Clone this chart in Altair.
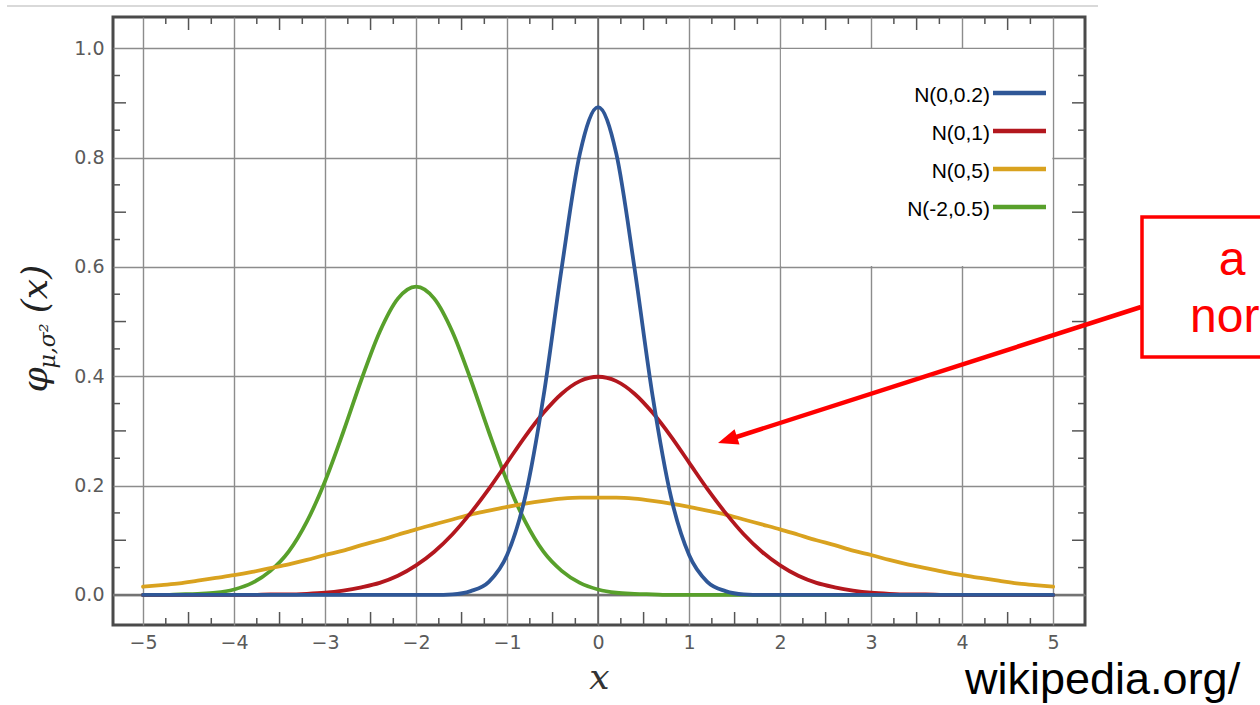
import altair as alt
import pandas as pd

# ---------------- data ----------------
x_pts = [-5.0, -4.8, -4.6, -4.4, -4.2, -4.0, -3.8, -3.6, -3.4, -3.2,
         -3.0, -2.8, -2.6, -2.4, -2.2, -2.0, -1.8, -1.6, -1.4, -1.2,
         -1.0, -0.8, -0.6, -0.4, -0.2, 0.0, 0.2, 0.4, 0.6, 0.8,
         1.0, 1.2, 1.4, 1.6, 1.8, 2.0, 2.2, 2.4, 2.6, 2.8,
         3.0, 3.2, 3.4, 3.6, 3.8, 4.0, 4.2, 4.4, 4.6, 4.8,
         5.0]

n_0_02 = [0, 0, 0, 0, 0, 0, 0, 0, 0, 0,
          0, 0, 0, 0, 0, 0, 0, 0.001, 0.007, 0.024,
          0.073, 0.180, 0.363, 0.598, 0.807, 0.892, 0.807, 0.598, 0.363, 0.180,
          0.073, 0.024, 0.007, 0.001, 0, 0, 0, 0, 0, 0,
          0, 0, 0, 0, 0, 0, 0, 0, 0, 0,
          0]

n_0_1 = [0, 0, 0, 0, 0, 0, 0, 0.001, 0.001, 0.002,
         0.004, 0.008, 0.014, 0.022, 0.035, 0.054, 0.079, 0.111, 0.150, 0.194,
         0.242, 0.290, 0.333, 0.368, 0.391, 0.399, 0.391, 0.368, 0.333, 0.290,
         0.242, 0.194, 0.150, 0.111, 0.079, 0.054, 0.035, 0.022, 0.014, 0.008,
         0.004, 0.002, 0.001, 0.001, 0, 0, 0, 0, 0, 0,
         0]

n_0_5 = [0.015, 0.018, 0.021, 0.026, 0.031, 0.036, 0.042, 0.049, 0.056, 0.064,
         0.073, 0.081, 0.091, 0.100, 0.110, 0.120, 0.129, 0.138, 0.147, 0.154,
         0.161, 0.167, 0.172, 0.176, 0.178, 0.178, 0.178, 0.176, 0.172, 0.167,
         0.161, 0.154, 0.147, 0.138, 0.129, 0.120, 0.110, 0.100, 0.091, 0.081,
         0.073, 0.064, 0.056, 0.049, 0.042, 0.036, 0.031, 0.026, 0.021, 0.018,
         0.015]

n_m2_05 = [0, 0, 0.001, 0.002, 0.004, 0.010, 0.022, 0.044, 0.079, 0.134,
           0.208, 0.298, 0.394, 0.481, 0.542, 0.564, 0.542, 0.481, 0.394, 0.298,
           0.208, 0.134, 0.079, 0.044, 0.022, 0.010, 0.004, 0.002, 0.001, 0,
           0, 0, 0, 0, 0, 0, 0, 0, 0, 0,
           0, 0, 0, 0, 0, 0, 0, 0, 0, 0,
           0]

series_names = ["N(0,0.2)", "N(0,1)", "N(0,5)", "N(-2,0.5)"]
series_colors = ["#2f5797", "#b3171e", "#d9a21f", "#58a02b"]
series_values = [n_0_02, n_0_1, n_0_5, n_m2_05]
draw_order = ["N(-2,0.5)", "N(0,5)", "N(0,1)", "N(0,0.2)"]

x_ticks = [-5, -4, -3, -2, -1, 0, 1, 2, 3, 4, 5]
y_ticks = [0.0, 0.2, 0.4, 0.6, 0.8, 1.0]
x_minor_quarter = [-4.75, -4.25, -3.75, -3.25, -2.75, -2.25, -1.75, -1.25, -0.75, -0.25,
                   0.25, 0.75, 1.25, 1.75, 2.25, 2.75, 3.25, 3.75, 4.25, 4.75]
x_minor_half = [-4.5, -3.5, -2.5, -1.5, -0.5, 0.5, 1.5, 2.5, 3.5, 4.5]
y_minor_short = [0.05, 0.15, 0.25, 0.35, 0.45, 0.55, 0.65, 0.75, 0.85, 0.95]
y_minor_long = [0.1, 0.3, 0.5, 0.7, 0.9]

rows = []
for name, vals in zip(series_names, series_values):
    for xv, yv in zip(x_pts, vals):
        rows.append({"x": xv, "y": yv, "series": name})
df = pd.DataFrame(rows)

# ---------------- layout ----------------
W, H = 972, 608
PAD_L, PAD_T = 113, 17
xs = alt.Scale(domain=[-5.33, 5.35], nice=False, zero=False)
ys = alt.Scale(domain=[-0.055, 1.057], nice=False, zero=False)
cs = alt.Scale(domain=series_names, range=series_colors)

GRID = "#8c8c8c"
LABEL_FONT = "DejaVu Sans"

x_axis = alt.Axis(values=x_ticks, grid=True, gridColor=GRID, gridWidth=1.4,
                  domain=False, ticks=False, labelFont=LABEL_FONT, labelFontSize=19,
                  labelColor="#5a5a5a", labelPadding=8, labelFlush=False,
                  title="x", titleFont="DejaVu Serif", titleFontStyle="italic",
                  titleFontWeight="normal", titleFontSize=36, titleColor="#333333",
                  titleY=63, titleBaseline="alphabetic")
y_axis = alt.Axis(values=y_ticks, format=".1f", grid=True, gridColor=GRID, gridWidth=1.4,
                  domain=False, ticks=False, labelFont=LABEL_FONT, labelFontSize=19,
                  labelColor="#5a5a5a", labelPadding=9, labelFlush=False, title="")

X = lambda f: alt.X(f, scale=xs, axis=x_axis)
Y = lambda f: alt.Y(f, scale=ys, axis=y_axis)

layers = []

# darker zero lines
layers.append(alt.Chart(pd.DataFrame({"x": [0]})).mark_rule(color="#666666", strokeWidth=1.7)
              .encode(x=X("x:Q")))
layers.append(alt.Chart(pd.DataFrame({"y": [0]})).mark_rule(color="#737373", strokeWidth=2.4)
              .encode(y=Y("y:Q")))

# minor ticks on the frame (pointing inward)
TICK = "#555555"
def xticks(vals, length):
    d = pd.DataFrame({"x": vals})
    b = alt.Chart(d).mark_rule(color=TICK, strokeWidth=1.5).encode(
        x=X("x:Q"), y=alt.value(H), y2=alt.value(H - length))
    t = alt.Chart(d).mark_rule(color=TICK, strokeWidth=1.5).encode(
        x=X("x:Q"), y=alt.value(0), y2=alt.value(length))
    return [b, t]

def yticks(vals, length):
    d = pd.DataFrame({"y": vals})
    l = alt.Chart(d).mark_rule(color=TICK, strokeWidth=1.5).encode(
        y=Y("y:Q"), x=alt.value(0), x2=alt.value(length))
    r = alt.Chart(d).mark_rule(color=TICK, strokeWidth=1.5).encode(
        y=Y("y:Q"), x=alt.value(W), x2=alt.value(W - length))
    return [l, r]

layers += xticks(x_minor_quarter, 7)
layers += xticks(x_minor_half, 13)
layers += yticks(y_minor_short, 7)
layers += yticks(y_minor_long, 13)

# white legend background (hides the grid behind the legend)
layers.append(alt.Chart(pd.DataFrame({"x": [2.009], "x1": [4.991], "y": [0.6016], "y1": [0.9984]}))
              .mark_rect(fill="white")
              .encode(x=X("x:Q"), x2="x1:Q", y=Y("y:Q"), y2="y1:Q"))

# curves
for name in draw_order:
    layers.append(alt.Chart(df).transform_filter(alt.datum.series == name)
                  .mark_line(interpolate="monotone", strokeWidth=3.8, strokeCap="round")
                  .encode(x=X("x:Q"), y=Y("y:Q"),
                          color=alt.Color("series:N", scale=cs, legend=None)))

# legend (labels left of the line samples)
for i, (name, col) in enumerate(zip(series_names, series_colors)):
    ly = 76 + 38 * i
    layers.append(alt.Chart(pd.DataFrame({"t": [name]})).mark_text(
        align="right", baseline="middle", font="Liberation Sans", fontSize=21, color="black")
        .encode(text="t:N", x=alt.value(877), y=alt.value(ly + 3)))
    layers.append(alt.Chart(pd.DataFrame({"t": [name]})).mark_rule(color=col, strokeWidth=4.5)
                  .encode(x=alt.value(880), x2=alt.value(933), y=alt.value(ly)))

# y-axis title phi_{mu,sigma^2}(x), rotated
def ytext(t, y, x, size):
    return alt.Chart(pd.DataFrame({"t": [t]})).mark_text(
        angle=270, align="center", baseline="alphabetic", font="DejaVu Serif",
        fontStyle="italic", fontSize=size, color="#222222").encode(
        text="t:N", x=alt.value(x), y=alt.value(y))

layers.append(ytext("(x)", 272, -66, 36))
layers.append(ytext("μ,σ²", 329, -58, 22))
layers.append(ytext("φ", 363, -66, 36))

# thin grey line above the chart
layers.append(alt.Chart(pd.DataFrame({"t": [0]})).mark_rule(color="#d9d9d9", strokeWidth=2)
              .encode(x=alt.value(7 - PAD_L), x2=alt.value(1098 - PAD_L), y=alt.value(6 - PAD_T)))

# red annotation box, arrow and text
layers.append(alt.Chart(pd.DataFrame({"t": [0]})).mark_rect(fill="white", stroke="#ff0000", strokeWidth=3.5)
              .encode(x=alt.value(1142 - PAD_L), x2=alt.value(1264 - PAD_L),
                      y=alt.value(217 - PAD_T), y2=alt.value(357 - PAD_T)))
layers.append(alt.Chart(pd.DataFrame({"t": [0]})).mark_rule(color="#ff0000", strokeWidth=4.5)
              .encode(x=alt.value(1141 - PAD_L), y=alt.value(307 - PAD_T),
                      x2=alt.value(727 - PAD_L), y2=alt.value(440 - PAD_T)))
layers.append(alt.Chart(pd.DataFrame({"t": [0]})).mark_point(
    shape="M0,0 L2,-0.8 L2,0.8 Z", filled=True, fill="#ff0000", color="#ff0000",
    size=400, angle=342, opacity=1, strokeWidth=0)
    .encode(x=alt.value(718 - PAD_L), y=alt.value(443 - PAD_T)))
layers.append(alt.Chart(pd.DataFrame({"t": ["a"]})).mark_text(
    align="center", baseline="alphabetic", font="Liberation Sans", fontSize=48, color="#ff0000")
    .encode(text="t:N", x=alt.value(1232 - PAD_L), y=alt.value(275 - PAD_T)))
layers.append(alt.Chart(pd.DataFrame({"t": ["nor"]})).mark_text(
    align="left", baseline="alphabetic", font="Liberation Sans", fontSize=48, color="#ff0000")
    .encode(text="t:N", x=alt.value(1190 - PAD_L), y=alt.value(332 - PAD_T)))

# source text
layers.append(alt.Chart(pd.DataFrame({"t": ["wikipedia.org/"]})).mark_text(
    align="left", baseline="alphabetic", font="Liberation Sans", fontSize=45, color="black")
    .encode(text="t:N", x=alt.value(965 - PAD_L), y=alt.value(694 - PAD_T)))

chart = alt.layer(*layers).properties(
    width=W, height=H,
    autosize=alt.AutoSizeParams(type="none"),
    padding={"left": PAD_L, "top": PAD_T, "right": 1260 - PAD_L - W, "bottom": 705 - PAD_T - H},
    background="white",
).configure_view(stroke="#4a4a4a", strokeWidth=3)

chart.save("out.html", embed_options={"renderer": "svg", "actions": False})
